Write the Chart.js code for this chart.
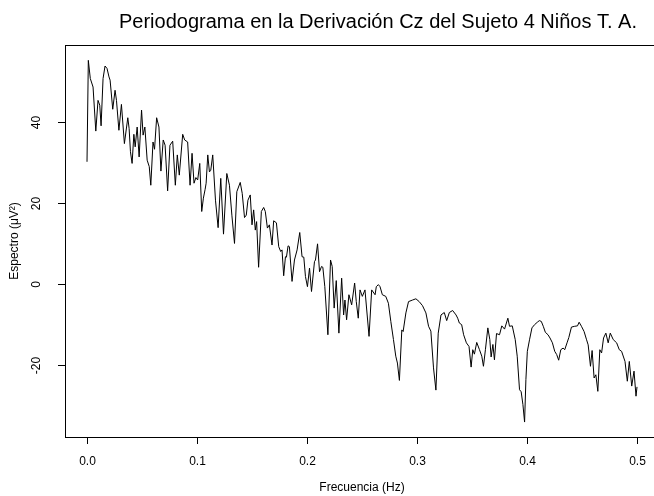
<!DOCTYPE html>
<html>
<head>
<meta charset="utf-8">
<script src="https://cdn.jsdelivr.net/npm/chart.js@4/dist/chart.umd.min.js"></script>
<style>
  html, body { margin: 0; padding: 0; background: #fff; overflow: hidden; }
  #wrap { width: 670px; height: 496px; }
</style>
</head>
<body>
<div id="wrap"><canvas id="periodograma" width="670" height="496"></canvas></div>
<script>
const titulo = "Periodograma en la Derivación Cz del Sujeto 4 Niños T. A.";
const tituloX = "Frecuencia (Hz)";
const tituloY = "Espectro (\u03bcV\u00b2)";
const xTicks = [0, 0.1, 0.2, 0.3, 0.4, 0.5];
const xTickLabels = ["0.0", "0.1", "0.2", "0.3", "0.4", "0.5"];
const yTicks = [-20, 0, 20, 40];
const yTickLabels = ["-20", "0", "20", "40"];

const frecuencia = [
  0, 0.0012, 0.003, 0.0055, 0.008, 0.010, 0.0116, 0.0128, 0.0146, 0.0164,
  0.0182, 0.020, 0.021, 0.0234, 0.0255, 0.0268, 0.029, 0.0313, 0.034, 0.0371,
  0.0383, 0.0395, 0.041, 0.0426, 0.0438, 0.0456, 0.0474, 0.0496, 0.051, 0.0526,
  0.0547, 0.0566, 0.058, 0.060, 0.0614, 0.0633, 0.0654, 0.0672, 0.0693, 0.071,
  0.0733, 0.0754, 0.0779, 0.0803, 0.0821, 0.0839, 0.087, 0.0888, 0.0915, 0.0937,
  0.0955, 0.0973, 0.099, 0.1006, 0.1025, 0.1043, 0.1058, 0.1074, 0.1083, 0.1098,
  0.1113, 0.1125, 0.1143, 0.1168, 0.1192, 0.1216, 0.1241, 0.1271, 0.1295, 0.1317,
  0.1341, 0.1362, 0.1393, 0.1411, 0.1432, 0.1448, 0.1463, 0.1484, 0.150, 0.1515,
  0.153, 0.1542, 0.156, 0.1585, 0.1606, 0.1621, 0.164, 0.1658, 0.1682, 0.1697,
  0.1722, 0.1743, 0.1761, 0.1773, 0.1788, 0.1804, 0.1813, 0.1828, 0.184, 0.1864,
  0.1886, 0.191, 0.1934, 0.1955, 0.1971, 0.1986, 0.2004, 0.2023, 0.2041, 0.2068,
  0.2077, 0.2096, 0.2114, 0.2132, 0.2144, 0.2162, 0.219, 0.2214, 0.2229, 0.2247,
  0.2266, 0.229, 0.2315, 0.2333, 0.2345, 0.236, 0.2381, 0.2406, 0.2433, 0.2448,
  0.2466, 0.2482, 0.2503, 0.2527, 0.2564, 0.2588, 0.2619, 0.263, 0.2649, 0.2664,
  0.2685, 0.2716, 0.274, 0.2762, 0.2786, 0.2807, 0.2822, 0.284, 0.2862, 0.2874,
  0.2899, 0.2923, 0.296, 0.299, 0.302, 0.305, 0.3081, 0.3105, 0.3126, 0.315,
  0.3172, 0.3193, 0.3218, 0.3248, 0.327, 0.3294, 0.3324, 0.3355, 0.337, 0.3385,
  0.3406, 0.3424, 0.3449, 0.3473, 0.3492, 0.3507, 0.3522, 0.3543, 0.3568, 0.3589,
  0.3604, 0.3622, 0.3644, 0.3662, 0.3674, 0.369, 0.3704, 0.3723, 0.375, 0.3771,
  0.3796, 0.3826, 0.3841, 0.3866, 0.3893, 0.3911, 0.3932, 0.3947, 0.3963, 0.3978,
  0.399, 0.4003, 0.4024, 0.4045, 0.4069, 0.4094, 0.4112, 0.413, 0.4148, 0.4167,
  0.4191, 0.4209, 0.4231, 0.4252, 0.427, 0.4288, 0.4307, 0.4328, 0.4343, 0.4364,
  0.438, 0.4404, 0.4434, 0.4459, 0.4474, 0.4495, 0.4519, 0.454, 0.4556, 0.4577,
  0.4592, 0.461, 0.4626, 0.4644, 0.4662, 0.4678, 0.4696, 0.4717, 0.4738, 0.4757,
  0.4784, 0.4815, 0.4839, 0.486, 0.4891, 0.4912, 0.493, 0.4952, 0.4973, 0.4991,
  0.5
];

const espectro = [
  30.2, 55.3, 50.8, 48.7, 37.8, 45.4, 44.2, 39.1, 50.8, 53.9,
  53.3, 51.2, 50.4, 43.2, 47.9, 45.4, 38.0, 44.4, 34.7, 41.1,
  38.4, 32.7, 29.8, 37.0, 33.9, 38.8, 31.4, 43.0, 36.8, 38.8,
  30.6, 29.0, 24.4, 35.1, 33.3, 41.1, 38.8, 27.9, 35.6, 34.3,
  23.0, 34.3, 35.3, 24.4, 31.9, 26.9, 37.0, 35.6, 35.1, 24.4,
  32.3, 24.9, 26.3, 25.7, 29.8, 17.9, 21.2, 23.4, 24.9, 31.9,
  27.7, 28.1, 31.9, 20.7, 13.9, 26.1, 12.3, 27.3, 24.4, 17.0,
  10.0, 22.8, 25.1, 22.4, 16.4, 17.0, 20.7, 22.0, 14.6, 18.3,
  13.3, 15.4, 4.1, 17.9, 18.9, 17.9, 13.8, 14.6, 9.6, 15.6,
  15.1, 9.2, 8.0, 8.4, 2.0, 6.7, 6.6, 9.4, 9.2, 0.6,
  5.9, 8.4, 12.7, 6.7, 6.6, 1.8, -0.7, 3.9, -1.9, 5.5,
  5.9, 9.9, 3.0, 4.3, 4.1, -0.7, -12.6, 5.9, 4.3, -6.0,
  0.8, -12.2, 1.4, -7.7, -4.0, -8.9, -2.7, -5.2, 0.2, -4.4,
  -8.5, -1.5, -3.1, -1.5, -13.0, -1.5, -2.7, -0.7, -0.2, -0.7,
  -2.7, -3.1, -4.8, -9.3, -13.8, -17.9, -19.6, -23.9, -11.4, -11.8,
  -7.2, -4.4, -4.0, -3.7, -4.4, -5.4, -7.2, -10.5, -11.7, -20.8,
  -26.3, -12.2, -7.7, -7.1, -9.1, -7.1, -6.6, -7.7, -8.5, -9.7,
  -10.1, -12.6, -14.6, -15.5, -20.6, -16.3, -17.4, -14.5, -16.3, -17.9,
  -20.4, -16.3, -10.9, -13.8, -18.1, -15.0, -18.8, -12.3, -12.6, -10.4,
  -11.2, -8.5, -10.5, -10.4, -13.8, -17.9, -26.2, -26.7, -29.9, -34.2,
  -23.7, -16.7, -13.7, -10.9, -10.1, -9.5, -9.1, -9.3, -10.5, -12.0,
  -12.6, -13.4, -14.6, -16.7, -17.5, -18.9, -16.3, -15.9, -16.3, -14.6,
  -13.3, -10.7, -10.5, -10.4, -9.5, -10.5, -11.8, -13.7, -15.1, -20.4,
  -16.5, -23.3, -22.5, -26.6, -16.3, -17.1, -13.4, -12.2, -14.6, -12.2,
  -13.8, -14.6, -16.3, -16.7, -19.2, -24.1, -19.2, -25.3, -21.6, -27.8,
  -25.5
];

const fuente = '"Liberation Sans", Arial, Helvetica, sans-serif';

// axes, box and labels drawn R-style on top of the chart area
const ejesR = {
  id: "ejesR",
  afterDraw(chart) {
    const ctx = chart.ctx;
    const { left, right, top, bottom } = chart.chartArea;
    const x = chart.scales.x, y = chart.scales.y;
    ctx.save();
    ctx.strokeStyle = "#000";
    ctx.lineWidth = 1;
    ctx.strokeRect(Math.round(left) + 0.5, Math.round(top) + 0.5,
      Math.round(right - left), Math.round(bottom - top));

    ctx.fillStyle = "#000";
    ctx.font = "12px " + fuente;
    ctx.textAlign = "center";
    ctx.textBaseline = "middle";

    xTicks.forEach((t, i) => {
      const px = Math.round(x.getPixelForValue(t)) + 0.5;
      ctx.beginPath();
      ctx.moveTo(px, bottom);
      ctx.lineTo(px, bottom + 7);
      ctx.stroke();
      ctx.fillText(xTickLabels[i], px, bottom + 25);
    });

    yTicks.forEach((t, i) => {
      const py = Math.round(y.getPixelForValue(t)) + 0.5;
      ctx.beginPath();
      ctx.moveTo(left, py);
      ctx.lineTo(left - 7, py);
      ctx.stroke();
      ctx.save();
      ctx.translate(left - 28, py);
      ctx.rotate(-Math.PI / 2);
      ctx.fillText(yTickLabels[i], 0, 0);
      ctx.restore();
    });

    ctx.fillText(tituloX, (left + right) / 2, bottom + 51);

    ctx.save();
    ctx.translate(15, (top + bottom) / 2);
    ctx.rotate(-Math.PI / 2);
    ctx.fillText(tituloY, 0, 0);
    ctx.restore();

    ctx.font = "20px " + fuente;
    ctx.fillText(titulo, (left + right) / 2 + 16, 22);
    ctx.restore();
  }
};

new Chart(document.getElementById("periodograma"), {
  type: "line",
  data: {
    datasets: [{
      label: "Espectro",
      data: frecuencia.map((f, i) => ({ x: f, y: espectro[i] })),
      borderColor: "#000",
      borderWidth: 1,
      pointRadius: 0,
      tension: 0,
      fill: false
    }]
  },
  options: {
    responsive: false,
    animation: false,
    layout: { padding: { left: 65, right: 11, top: 45, bottom: 59 } },
    scales: {
      x: { type: "linear", min: -0.02, max: 0.52, display: false },
      y: { type: "linear", min: -37.9, max: 59.1, display: false }
    },
    plugins: {
      legend: { display: false },
      tooltip: { enabled: false }
    }
  },
  plugins: [ejesR]
});
</script>
</body>
</html>
